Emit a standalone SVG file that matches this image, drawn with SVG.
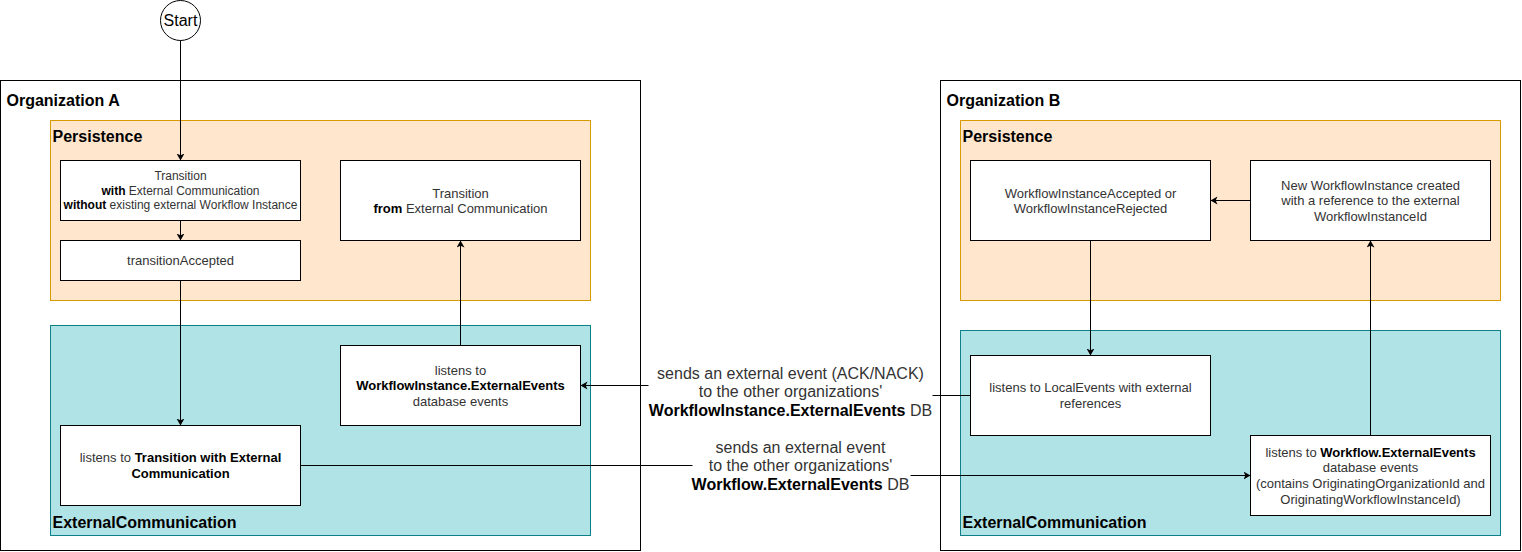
<svg xmlns="http://www.w3.org/2000/svg" width="1522" height="552" viewBox="0 0 1522 552">
<style>
text{font-family:"Liberation Sans",Arial,Helvetica,sans-serif;}
.title{font-size:16px;font-weight:bold;fill:#000;}
.t12{font-size:12px;fill:#333;text-anchor:middle;}
.t13{font-size:13px;fill:#333;text-anchor:middle;}
.t16{font-size:16px;fill:#333;text-anchor:middle;}
.b{font-weight:bold;fill:#000;}
.org{fill:#fff;stroke:#000;stroke-width:1;}
.pers{fill:#ffe6cc;stroke:#d79b00;stroke-width:1;}
.ext{fill:#b0e3e6;stroke:#0e8088;stroke-width:1;}
.node{fill:#fff;stroke:#000;stroke-width:1;}
.edge{fill:none;stroke:#000;stroke-width:1;}
</style>
<defs>
<marker id="arr" markerWidth="10" markerHeight="10" refX="7" refY="4" orient="auto" markerUnits="userSpaceOnUse">
<path d="M0,0 L7,4 L0,8 L1.8,4 Z" fill="#000"/>
</marker>
</defs>
<rect width="1522" height="552" fill="#fff"/>
<g transform="translate(0.5,0.5)">
<g id="orgA">
<rect class="org" x="0" y="80" width="640" height="470"/>
<text class="title" x="6" y="105">Organization A</text>
</g>
<g id="persA">
<rect class="pers" x="50" y="120" width="540" height="180"/>
<text class="title" x="52" y="141">Persistence</text>
</g>
<g id="extA">
<rect class="ext" x="50" y="325" width="540" height="210"/>
<text class="title" x="52" y="527">ExternalCommunication</text>
</g>
<g id="orgB">
<rect class="org" x="940" y="80" width="580" height="470"/>
<text class="title" x="946" y="105">Organization B</text>
</g>
<g id="persB">
<rect class="pers" x="960" y="120" width="540" height="180"/>
<text class="title" x="962" y="141">Persistence</text>
</g>
<g id="extB">
<rect class="ext" x="960" y="330" width="540" height="205"/>
<text class="title" x="962" y="527">ExternalCommunication</text>
</g>
<g id="start">
<circle class="node" cx="180" cy="20" r="20"/>
<text class="t16" x="180" y="25.5" style="fill:#000">Start</text>
</g>
<g id="transitionWith">
<rect class="node" x="60" y="160" width="240" height="60"/>
<text class="t12" x="180" y="179.5">Transition</text>
<text class="t12" x="180" y="194"><tspan class="b">with</tspan> External Communication</text>
<text class="t12" x="180" y="208.5"><tspan class="b">without</tspan> existing external Workflow Instance</text>
</g>
<g id="transitionAccepted">
<rect class="node" x="60" y="240" width="240" height="40"/>
<text class="t13" x="180" y="264.5">transitionAccepted</text>
</g>
<g id="transitionFrom">
<rect class="node" x="340" y="160" width="240" height="80"/>
<text class="t13" x="460" y="197">Transition</text>
<text class="t13" x="460" y="212.5"><tspan class="b">from</tspan> External Communication</text>
</g>
<g id="listensWI">
<rect class="node" x="340" y="345" width="240" height="80"/>
<text class="t13" x="460" y="374">listens to</text>
<text class="t13" x="460" y="389.6"><tspan class="b">WorkflowInstance.ExternalEvents</tspan></text>
<text class="t13" x="460" y="405.2">database events</text>
</g>
<g id="listensTransition">
<rect class="node" x="60" y="425" width="240" height="80"/>
<text class="t13" x="180" y="461.8">listens to <tspan class="b">Transition with External</tspan></text>
<text class="t13" x="180" y="477.4"><tspan class="b">Communication</tspan></text>
</g>
<g id="wiAccepted">
<rect class="node" x="970" y="160" width="240" height="80"/>
<text class="t13" x="1090" y="197">WorkflowInstanceAccepted or</text>
<text class="t13" x="1090" y="212.5">WorkflowInstanceRejected</text>
</g>
<g id="newWI">
<rect class="node" x="1250" y="160" width="240" height="80"/>
<text class="t13" x="1370" y="189">New WorkflowInstance created</text>
<text class="t13" x="1370" y="204.6">with a reference to the external</text>
<text class="t13" x="1370" y="220.2">WorkflowInstanceId</text>
</g>
<g id="listensLocal">
<rect class="node" x="970" y="355" width="240" height="80"/>
<text class="t13" x="1090" y="391.8">listens to LocalEvents with external</text>
<text class="t13" x="1090" y="407.4">references</text>
</g>
<g id="listensWF">
<rect class="node" x="1250" y="435" width="240" height="80"/>
<text class="t13" x="1370" y="456.2">listens to <tspan class="b">Workflow.ExternalEvents</tspan></text>
<text class="t13" x="1370" y="471.8">database events</text>
<text class="t13" x="1370" y="487.4">(contains OriginatingOrganizationId and</text>
<text class="t13" x="1370" y="503">OriginatingWorkflowInstanceId)</text>
</g>
<g id="connectors">
<path class="edge" d="M180,40 L180,160" marker-end="url(#arr)"/>
<path class="edge" d="M180,220 L180,240" marker-end="url(#arr)"/>
<path class="edge" d="M180,280 L180,425" marker-end="url(#arr)"/>
<path class="edge" d="M460,345 L460,240" marker-end="url(#arr)"/>
<path class="edge" d="M1250,200 L1210,200" marker-end="url(#arr)"/>
<path class="edge" d="M1090,240 L1090,355" marker-end="url(#arr)"/>
<path class="edge" d="M1370,435 L1370,240" marker-end="url(#arr)"/>
<path class="edge" d="M970,395 L790,395 L790,385 L580,385" marker-end="url(#arr)"/>
<path class="edge" d="M300,465 L800,465 L800,475 L1250,475" marker-end="url(#arr)"/>
<rect x="648" y="361" width="284" height="58" fill="#fff"/>
<text class="t16" x="790" y="378">sends an external event (ACK/NACK)</text>
<text class="t16" x="790" y="396.5">to the other organizations'</text>
<text class="t16" x="790" y="415"><tspan class="b">WorkflowInstance.ExternalEvents</tspan> DB</text>
<rect x="692" y="436" width="218" height="58" fill="#fff"/>
<text class="t16" x="800" y="452">sends an external event</text>
<text class="t16" x="800" y="470.5">to the other organizations'</text>
<text class="t16" x="800" y="489"><tspan class="b">Workflow.ExternalEvents</tspan> DB</text>
</g>
</g>
</svg>
